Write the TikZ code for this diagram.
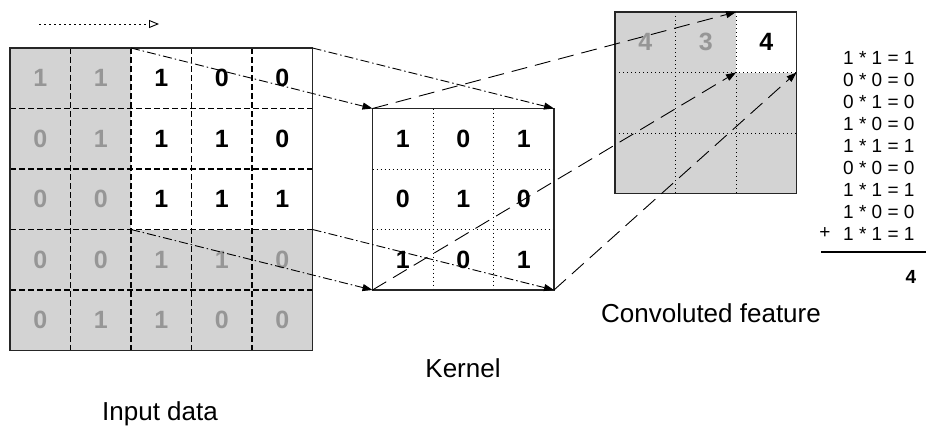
\documentclass[tikz,border=0pt]{standalone}
\usepackage{fontspec}
\setmainfont{Liberation Sans}
\usetikzlibrary{arrows.meta,fit}
\definecolor{cellgray}{RGB}{211,211,211}
\definecolor{digitgray}{RGB}{150,150,150}
\begin{document}
\begin{tikzpicture}[x=1pt,y=-1pt,
  cell/.style={minimum size=60.5pt, inner sep=0pt, outer sep=0pt,
    font=\fontsize{25}{30}\selectfont\bfseries},
  graycell/.style={cell, fill=cellgray, text=digitgray},
  whitecell/.style={cell, text=black},
  border/.style={line width=1.3pt, draw=black!85},
  ingrid/.style={line width=1.1pt, dash pattern=on 5.5pt off 3.5pt},
  dotgrid/.style={line width=1pt, dash pattern=on 1.2pt off 2.8pt},
  dashdotline/.style={line width=0.9pt, dash pattern=on 9pt off 3pt on 1.5pt off 3pt,
    -{Triangle[length=10pt,width=7pt]}},
  longdashline/.style={line width=0.9pt, dash pattern=on 16pt off 8pt,
    -{Triangle[length=10pt,width=7pt]}},
  label/.style={font=\fontsize{26}{30}\selectfont, anchor=base, inner sep=0pt},
  eqline/.style={font=\fontsize{19}{22}\selectfont, anchor=base west, inner sep=0pt},
]
\useasboundingbox (0,0) rectangle (930,426);

% ---------- input data ----------
\foreach \rowvals [count=\r from 0] in {{1,1,1,0,0},{0,1,1,1,0},{0,0,1,1,1},{0,0,1,1,0},{0,1,1,0,0}} {
  \foreach \v [count=\c from 0] in \rowvals {
    \ifnum\r<3 \ifnum\c>1 \def\st{whitecell}\else\def\st{graycell}\fi \else \def\st{graycell}\fi
    \node[\st] (in-\r-\c) at ({10+60.5*(\c+0.5)}, {48+60.5*(\r+0.5)}) {\v};
  }
}
\foreach \k in {1,...,4} {
  \draw[ingrid] (in-0-\k.north west) -- (in-4-\k.south west);
  \draw[ingrid] (in-\k-0.north west) -- (in-\k-4.north east);
}
\node[fit=(in-0-0)(in-4-4), inner sep=0pt, outer sep=0pt, border, draw] (input) {};

% ---------- kernel ----------
\foreach \rowvals [count=\r from 0] in {{1,0,1},{0,1,0},{1,0,1}} {
  \foreach \v [count=\c from 0] in \rowvals {
    \node[whitecell] (k-\r-\c) at ({372.5+60.5*(\c+0.5)}, {108.5+60.5*(\r+0.5)}) {\v};
  }
}
\foreach \k in {1,2} {
  \draw[dotgrid] (k-0-\k.north west) -- (k-2-\k.south west);
  \draw[dotgrid] (k-\k-0.north west) -- (k-\k-2.north east);
}
\node[fit=(k-0-0)(k-2-2), inner sep=0pt, outer sep=0pt, border, draw] (kernel) {};

% ---------- convoluted feature ----------
\foreach \rowvals [count=\r from 0] in {{4,3,4},{,,},{,,}} {
  \foreach \v [count=\c from 0] in \rowvals {
    \ifnum\r=0 \ifnum\c=2 \def\st{whitecell}\else\def\st{graycell}\fi \else \def\st{graycell}\fi
    \node[\st] (o-\r-\c) at ({615+60.5*(\c+0.5)}, {12+60.5*(\r+0.5)}) {\v};
  }
}
\foreach \k in {1,2} {
  \draw[dotgrid] (o-0-\k.north west) -- (o-2-\k.south west);
  \draw[dotgrid] (o-\k-0.north west) -- (o-\k-2.north east);
}
\node[fit=(o-0-0)(o-2-2), inner sep=0pt, outer sep=0pt, border, draw] (output) {};

% ---------- direction arrow ----------
\coordinate (dirA) at (39,24);
\coordinate (dirB) at (159,24);
\draw[line width=0.9pt, dash pattern=on 1.5pt off 3.5pt,
  -{Triangle[open,length=10pt,width=8pt,line width=0.9pt]}] (dirA) -- (dirB);

% ---------- connectors ----------
\draw[dashdotline] (in-0-2.north west) -- (kernel.north west);
\draw[dashdotline] (in-0-4.north east) -- (kernel.north east);
\draw[dashdotline] (in-3-2.north west) -- (kernel.south west);
\draw[dashdotline] (in-3-4.north east) -- (kernel.south east);
\draw[longdashline] (kernel.north west) -- (o-0-2.north west);
\draw[longdashline] (kernel.south west) -- (o-0-2.south west);
\draw[longdashline] (kernel.south east) -- (o-0-2.south east);

% ---------- labels ----------
\node[label] (lblin) at (160,420) {Input data};
\node[label] (lblk) at (463,377) {Kernel};
\node[label] (lblout) at (711,322) {Convoluted feature};

% ---------- calculation ----------
\foreach \t [count=\i from 0] in {1 * 1 = 1,0 * 0 = 0,0 * 1 = 0,1 * 0 = 0,1 * 1 = 1,0 * 0 = 0,1 * 1 = 1,1 * 0 = 0,1 * 1 = 1} {
  \node[eqline] (eq-\i) at (843,{64+22*\i}) {\t};
}
\node[font=\fontsize{19}{22}\selectfont, anchor=base, inner sep=0pt] (plus) at (825,238) {+};
\coordinate (sumL) at (821,252);
\coordinate (sumR) at (926,252);
\draw[line width=1.1pt] (sumL) -- (sumR);
\node[font=\fontsize{19}{22}\selectfont\bfseries, inner sep=0pt] (sum) at (911,277) {4};
\end{tikzpicture}
\end{document}
